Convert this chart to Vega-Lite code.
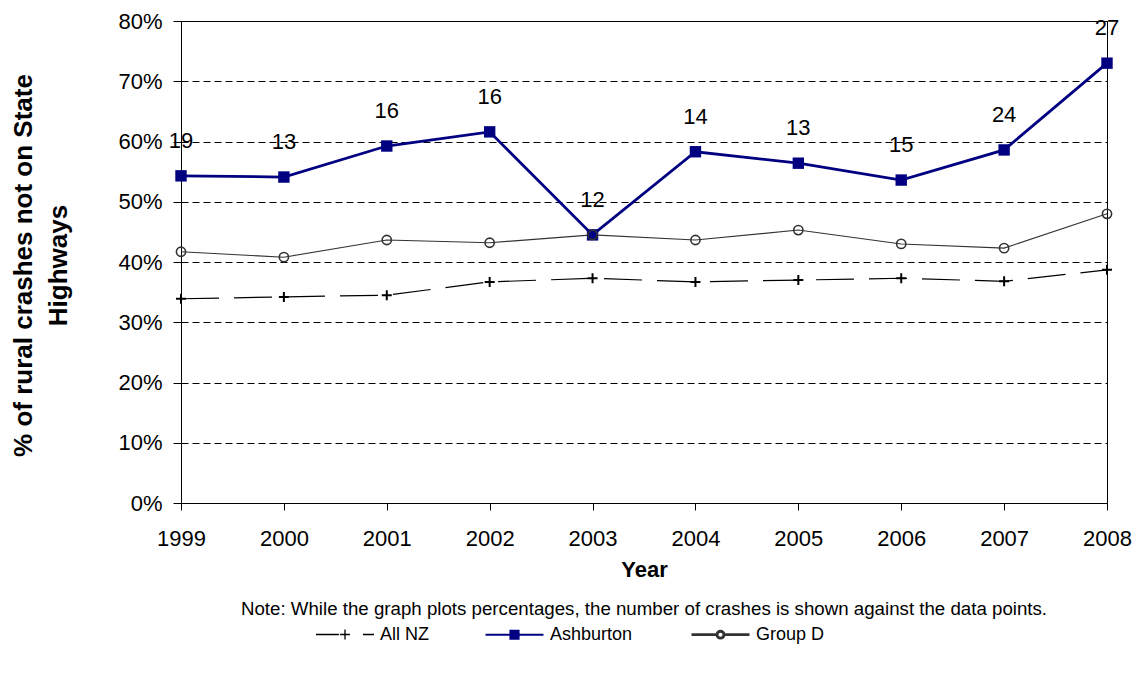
{
  "$schema": "https://vega.github.io/schema/vega-lite/v6.json",
  "width": 926,
  "height": 482,
  "autosize": {"type": "none"},
  "padding": {"left": 181, "top": 21, "right": 30, "bottom": 170},
  "background": "white",
  "config": {
    "font": "Liberation Sans",
    "view": {"stroke": "#000000", "strokeWidth": 1},
    "title": {"font": "Liberation Sans"}
  },
  "title": {
    "text": "Note: While the graph plots percentages, the number of crashes is shown against the data points.",
    "orient": "bottom",
    "anchor": "middle",
    "fontSize": 18.7,
    "fontWeight": "normal",
    "color": "#000000",
    "offset": -44
  },
  "data": {
    "values": [
      {"year": 1999, "series": "All NZ", "pct": 33.9},
      {"year": 2000, "series": "All NZ", "pct": 34.2},
      {"year": 2001, "series": "All NZ", "pct": 34.5},
      {"year": 2002, "series": "All NZ", "pct": 36.7},
      {"year": 2003, "series": "All NZ", "pct": 37.3},
      {"year": 2004, "series": "All NZ", "pct": 36.7},
      {"year": 2005, "series": "All NZ", "pct": 37.0},
      {"year": 2006, "series": "All NZ", "pct": 37.3},
      {"year": 2007, "series": "All NZ", "pct": 36.8},
      {"year": 2008, "series": "All NZ", "pct": 38.7},
      {"year": 1999, "series": "Ashburton", "pct": 54.3, "n": 19},
      {"year": 2000, "series": "Ashburton", "pct": 54.1, "n": 13},
      {"year": 2001, "series": "Ashburton", "pct": 59.25, "n": 16},
      {"year": 2002, "series": "Ashburton", "pct": 61.6, "n": 16},
      {"year": 2003, "series": "Ashburton", "pct": 44.5, "n": 12},
      {"year": 2004, "series": "Ashburton", "pct": 58.3, "n": 14},
      {"year": 2005, "series": "Ashburton", "pct": 56.4, "n": 13},
      {"year": 2006, "series": "Ashburton", "pct": 53.6, "n": 15},
      {"year": 2007, "series": "Ashburton", "pct": 58.6, "n": 24},
      {"year": 2008, "series": "Ashburton", "pct": 73.0, "n": 27},
      {"year": 1999, "series": "Group D", "pct": 41.7},
      {"year": 2000, "series": "Group D", "pct": 40.8},
      {"year": 2001, "series": "Group D", "pct": 43.65},
      {"year": 2002, "series": "Group D", "pct": 43.2},
      {"year": 2003, "series": "Group D", "pct": 44.5},
      {"year": 2004, "series": "Group D", "pct": 43.65},
      {"year": 2005, "series": "Group D", "pct": 45.3},
      {"year": 2006, "series": "Group D", "pct": 43.0},
      {"year": 2007, "series": "Group D", "pct": 42.3},
      {"year": 2008, "series": "Group D", "pct": 48.0}
    ]
  },
  "encoding": {
    "x": {
      "field": "year",
      "type": "ordinal",
      "scale": {"type": "point", "padding": 0},
      "axis": {
        "title": "Year",
        "labelAngle": 0,
        "labelFontSize": 22,
        "labelColor": "#000000",
        "labelPadding": 18,
        "tickSize": 7,
        "tickColor": "#000000",
        "domainColor": "#000000",
        "titleFontSize": 22,
        "titleFontWeight": "bold",
        "titleColor": "#000000",
        "titlePadding": 10,
        "grid": false
      }
    },
    "y": {
      "field": "pct",
      "type": "quantitative",
      "scale": {"domain": [0, 80], "nice": false},
      "axis": {
        "title": ["% of rural crashes not on State", "Highways"],
        "values": [0, 10, 20, 30, 40, 50, 60, 70, 80],
        "labelExpr": "datum.value + '%'",
        "labelFontSize": 22,
        "labelColor": "#000000",
        "labelPadding": 11,
        "tickSize": 8,
        "tickColor": "#000000",
        "domainColor": "#000000",
        "grid": true,
        "gridColor": "#000000",
        "gridDash": [7, 4],
        "gridWidth": 1,
        "gridOpacity": 1,
        "titleFontSize": 26,
        "titleFontWeight": "bold",
        "titleColor": "#000000",
        "titleAngle": -90,
        "titleBaseline": "top",
        "titleAlign": "center",
        "titleX": -171,
        "titleY": 244,
        "titleLineHeight": 35
      }
    }
  },
  "layer": [
    {
      "transform": [{"filter": "datum.series === 'All NZ'"}],
      "mark": {"type": "line", "stroke": "#000000", "strokeWidth": 1.2, "strokeDash": [38, 15]}
    },
    {
      "transform": [{"filter": "datum.series === 'Ashburton'"}],
      "mark": {"type": "line", "stroke": "#000080", "strokeWidth": 2.8}
    },
    {
      "transform": [{"filter": "datum.series === 'Group D'"}],
      "mark": {"type": "line", "stroke": "#333333", "strokeWidth": 1.1}
    },
    {
      "transform": [{"filter": "datum.series === 'All NZ'"}],
      "mark": {"type": "point", "shape": "M-1,0H1M0,-1V1", "size": 100, "filled": false, "stroke": "#000000", "strokeWidth": 2, "opacity": 1}
    },
    {
      "transform": [{"filter": "datum.series === 'Ashburton'"}],
      "mark": {"type": "square", "size": 130, "color": "#000080", "opacity": 1}
    },
    {
      "transform": [{"filter": "datum.series === 'Group D'"}],
      "mark": {"type": "point", "shape": "circle", "size": 85, "filled": false, "stroke": "#333333", "strokeWidth": 1.6, "opacity": 1}
    },
    {
      "transform": [{"filter": "datum.series === 'Ashburton'"}],
      "mark": {"type": "text", "dy": -35, "fontSize": 22, "color": "#000000"},
      "encoding": {"text": {"field": "n", "type": "quantitative"}}
    },
    {
      "mark": {"type": "point", "filled": false, "opacity": 0},
      "encoding": {
        "color": {
          "field": "series",
          "type": "nominal",
          "scale": {"domain": ["All NZ", "Ashburton", "Group D"], "range": ["#000000", "#000080", "#333333"]},
          "legend": {
            "title": null,
            "orient": "none",
            "legendX": 134,
            "legendY": 583,
            "direction": "horizontal",
            "labelFontSize": 18,
            "labelColor": "#000000",
            "labelOffset": 5,
            "symbolSize": 3364,
            "symbolOpacity": 1,
            "columnPadding": 52
          }
        },
        "shape": {
          "field": "series",
          "type": "nominal",
          "scale": {
            "domain": ["All NZ", "Ashburton", "Group D"],
            "range": [
              "M-1,0H-0.21M-0.17,0H0.17M0,-0.17V0.17M0.62,0H1",
              "M-1,0H1M-0.14,-0.14H0.14V0.14H-0.14Z",
              "M-1,0H-0.12M0.12,0H1M0.12,0A0.12,0.12 0 1 1 -0.12,0A0.12,0.12 0 1 1 0.12,0Z"
            ]
          },
          "legend": {
            "title": null,
            "orient": "none",
            "legendX": 134,
            "legendY": 583,
            "direction": "horizontal",
            "labelFontSize": 18,
            "labelColor": "#000000",
            "labelOffset": 5,
            "symbolSize": 3364,
            "symbolOpacity": 1,
            "columnPadding": 52
          }
        },
        "fill": {
          "field": "series",
          "type": "nominal",
          "scale": {"domain": ["All NZ", "Ashburton", "Group D"], "range": ["transparent", "#000080", "transparent"]},
          "legend": {
            "title": null,
            "orient": "none",
            "legendX": 134,
            "legendY": 583,
            "direction": "horizontal",
            "labelFontSize": 18,
            "labelColor": "#000000",
            "labelOffset": 5,
            "symbolSize": 3364,
            "symbolOpacity": 1,
            "columnPadding": 52
          }
        },
        "strokeWidth": {
          "field": "series",
          "type": "nominal",
          "scale": {"domain": ["All NZ", "Ashburton", "Group D"], "range": [1.3, 2.8, 1.2]},
          "legend": {
            "title": null,
            "orient": "none",
            "legendX": 134,
            "legendY": 583,
            "direction": "horizontal",
            "labelFontSize": 18,
            "labelColor": "#000000",
            "labelOffset": 5,
            "symbolSize": 3364,
            "symbolOpacity": 1,
            "columnPadding": 52
          }
        }
      }
    }
  ]
}
